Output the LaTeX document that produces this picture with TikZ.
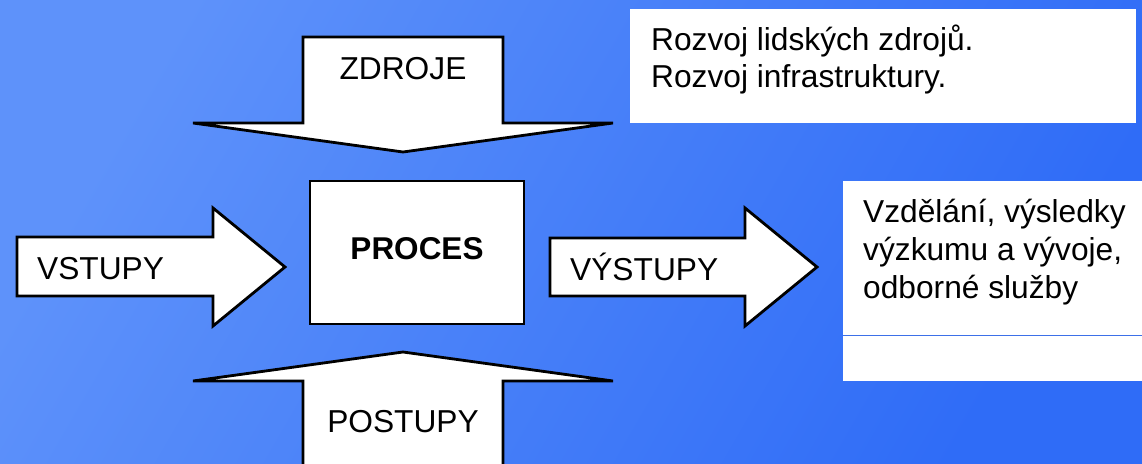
\documentclass[tikz,border=0pt]{standalone}
\usepackage{fontspec}
\setmainfont{Liberation Sans}
\definecolor{bgA}{HTML}{5E92FA}
\definecolor{bgB}{HTML}{2F6CF7}
\definecolor{sepline}{HTML}{3D70E8}
\tikzset{
  blockarrow/.style={fill=white, draw=black, line width=2.8pt, line join=miter},
  whitebox/.style={fill=white, draw=none},
  lbl/.style={font=\fontsize{31.7}{38}\selectfont, inner sep=0pt, text=black},
}
\begin{document}
\begin{tikzpicture}[x=1pt,y=-1pt]
\useasboundingbox (0,0) rectangle (1142,463);
\shade[top color=bgA, bottom color=bgB, shading angle=60] (0,0) rectangle (1142,463);

% ZDROJE (down arrow)
\draw[blockarrow] (303,37) -- (503,37) -- (503,123) -- (613,123) -- (403,152) -- (193,123) -- (303,123) -- cycle;
\node[lbl, anchor=base] (zdroje) at (403,79) {ZDROJE};

% POSTUPY (up arrow)
\draw[blockarrow] (303,470) -- (303,381) -- (193,381) -- (403,352) -- (613,381) -- (503,381) -- (503,470);
\node[lbl, anchor=base] (postupy) at (403,432) {POSTUPY};

% VSTUPY (right arrow)
\draw[blockarrow] (17,237) -- (213,237) -- (213,208) -- (285,267) -- (213,326) -- (213,296) -- (17,296) -- cycle;
\node[lbl, anchor=base west] (vstupy) at (37,279) {VSTUPY};

% PROCES
\draw[fill=white, draw=black, line width=2.8pt] (310,181) rectangle (524,324);
\node[lbl, anchor=base, font=\bfseries\fontsize{31.5}{38}\selectfont] (proces) at (417,259) {PROCES};

% VYSTUPY (right arrow)
\draw[blockarrow] (550,238) -- (745,238) -- (745,208) -- (817,267) -- (745,326) -- (745,296) -- (550,296) -- cycle;
\node[lbl, anchor=base west] (vystupy) at (570,280) {VÝSTUPY};

% top-right box
\fill[whitebox] (630,9) rectangle (1136,123);
\node[lbl, anchor=base west] (t1) at (651,50) {Rozvoj lidských zdrojů.};
\node[lbl, anchor=base west] (t2) at (651,87) {Rozvoj infrastruktury.};

% right box
\fill[whitebox] (843,181) rectangle (1142,381);
\draw[sepline, line width=1pt] (843,335) -- (1142,335);
\node[lbl, anchor=base west] (r1) at (863,222) {Vzdělání, výsledky};
\node[lbl, anchor=base west] (r2) at (863,260) {výzkumu a vývoje,};
\node[lbl, anchor=base west] (r3) at (863,298) {odborné služby};
\end{tikzpicture}
\end{document}
